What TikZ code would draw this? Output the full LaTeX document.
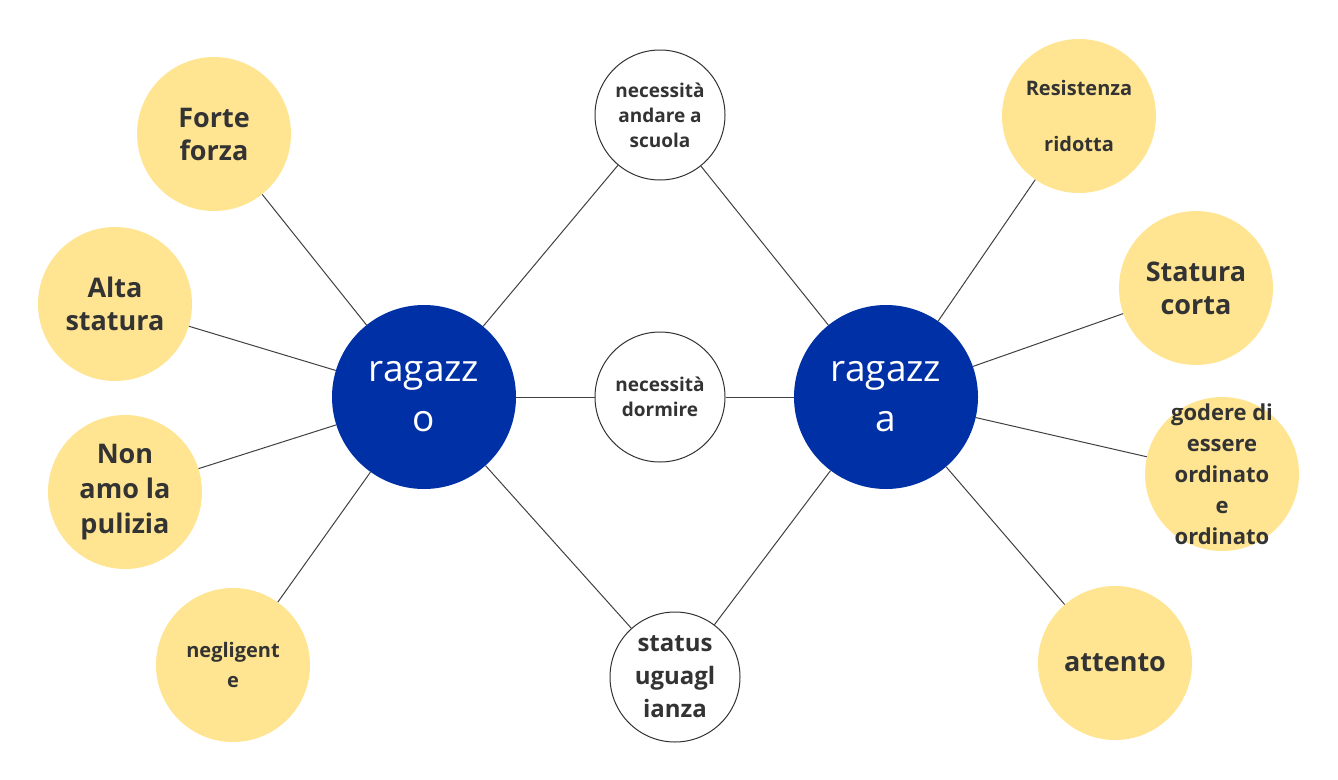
\documentclass[tikz,border=0pt]{standalone}
\usepackage{fontspec}
\setmainfont{Open Sans}
\begin{document}
\begin{tikzpicture}[x=1pt,y=-1pt,
 yel/.style={circle,fill={rgb,255:red,255;green,229;blue,145},draw=none,minimum size=154pt,inner sep=0pt,align=center,text=black!80,font=\bfseries\fontsize{27}{33}\selectfont},
 ysm/.style={yel,font=\bfseries\fontsize{20}{30}\selectfont},
 wht/.style={circle,draw=black!80,line width=1pt,fill=white,minimum size=130pt,inner sep=0pt,align=center,text=black!80,font=\bfseries\fontsize{19}{25}\selectfont},
 blu/.style={circle,fill={rgb,255:red,0;green,48;blue,165},minimum size=184pt,inner sep=0pt,align=center,text=white,font=\fontsize{37}{50}\selectfont},
 ln/.style={draw=black!75,line width=1pt}]
\useasboundingbox (0,0) rectangle (1338,779);
\node[blu] (bo) at (424,397) {ragazz\\o};
\node[blu] (bi) at (886,397) {ragazz\\a};
\node[wht] (w1) at (660,115) {necessità\\andare a\\scuola};
\node[wht] (w2) at (660,397) {necessità\\dormire};
\node[wht,font=\bfseries\fontsize{24}{33}\selectfont] (w3) at (675,677) {status\\uguagl\\ianza};
\node[yel] (y1) at (214,134) {Forte\\forza};
\node[yel] (y2) at (115,304) {Alta\\statura};
\node[yel,font=\bfseries\fontsize{27}{35}\selectfont] (y3) at (125,492) {Non\\amo la\\pulizia};
\node[ysm] (y4) at (233,665) {negligent\\e};
\node[ysm,font=\bfseries\fontsize{20}{56}\selectfont] (y5) at (1079,116) {Resistenza\\ridotta};
\node[yel] (y6) at (1196,288) {Statura\\corta};
\node[yel] (y7) at (1222,474) {};
\node[align=center,text=black!80,font=\bfseries\fontsize{22}{31}\selectfont] (t7) at (y7) {godere di\\essere\\ordinato\\e\\ordinato};
\node[yel] (y8) at (1115,663) {attento};
\foreach \a in {y1,y2,y3,y4,w1,w2,w3} \draw[ln] (bo) -- (\a);
\foreach \a in {y5,y6,y7,y8,w1,w2,w3} \draw[ln] (bi) -- (\a);
\end{tikzpicture}
\end{document}
